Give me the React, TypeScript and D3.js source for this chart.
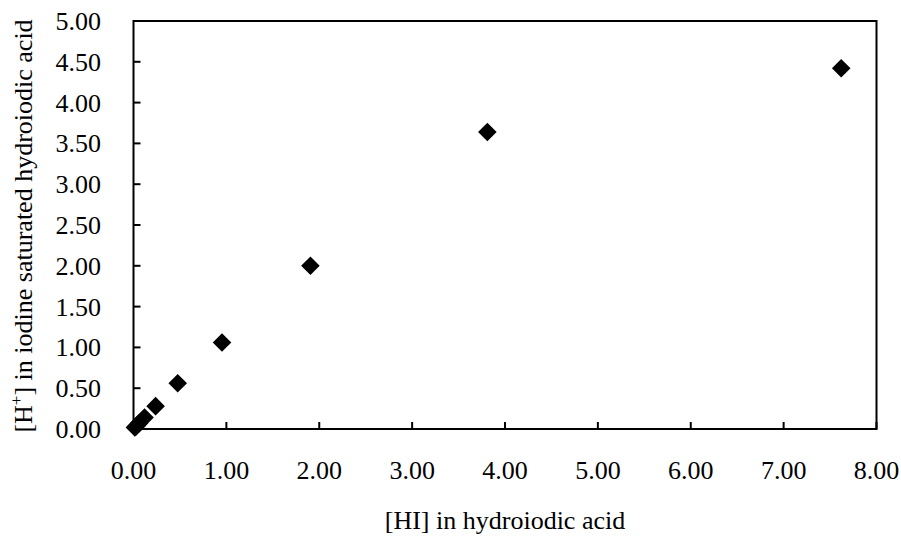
import React from "react";
import * as d3 from "d3";

const xValues = [7.62, 3.81, 1.905, 0.953, 0.476, 0.238, 0.119, 0.0595, 0.0298, 0.0149];
const yValues = [4.42, 3.64, 2.0, 1.06, 0.56, 0.28, 0.14, 0.07, 0.035, 0.018];
const xTicks = [0, 1, 2, 3, 4, 5, 6, 7, 8];
const yTicks = [0, 0.5, 1, 1.5, 2, 2.5, 3, 3.5, 4, 4.5, 5];
const xTitle = "[HI] in hydroiodic acid";

const W = 901, H = 537;
const L = 133.5, R = 876.5, T = 21, B = 429;

export default function App() {
  const x = d3.scaleLinear().domain([0, 8]).range([L, R]);
  const y = d3.scaleLinear().domain([0, 5]).range([B, T]);
  const font = "'Liberation Serif', 'Times New Roman', serif";
  const diamond = d3.symbol().type(d3.symbolDiamond2).size(220)();
  return (
    <div style={{ position: "absolute", left: 0, top: 0 }}>
      <svg width={W} height={H} style={{ display: "block", background: "#fff" }}>
        <rect x={L} y={T} width={R - L} height={B - T} fill="none" stroke="#000" strokeWidth={2} />
        {xTicks.map((t) => (
          <g key={"x" + t}>
            <line x1={x(t)} x2={x(t)} y1={B} y2={B - 7} stroke="#000" strokeWidth={2} />
            <text x={x(t)} y={479} textAnchor="middle" fontFamily={font} fontSize={26} fill="#000">
              {t.toFixed(2)}
            </text>
          </g>
        ))}
        {yTicks.map((t) => (
          <g key={"y" + t}>
            <line x1={L} x2={L + 7} y1={y(t)} y2={y(t)} stroke="#000" strokeWidth={2} />
            <text x={101} y={y(t) + 9} textAnchor="end" fontFamily={font} fontSize={26} fill="#000">
              {t.toFixed(2)}
            </text>
          </g>
        ))}
        {xValues.map((v, i) => (
          <path key={i} d={diamond || ""} transform={`translate(${x(v)},${y(yValues[i])})`} fill="#000" />
        ))}
        <text x={(L + R) / 2} y={529} textAnchor="middle" fontFamily={font} fontSize={26} fill="#000">
          {xTitle}
        </text>
        <text
          transform={`translate(32,${(T + B) / 2 + 1}) rotate(-90)`}
          textAnchor="middle"
          fontFamily={font}
          fontSize={26}
          fill="#000"
        >
          [H<tspan dy={-10} fontSize={17}>+</tspan><tspan dy={10}>] in iodine saturated hydroiodic acid</tspan>
        </text>
      </svg>
    </div>
  );
}
